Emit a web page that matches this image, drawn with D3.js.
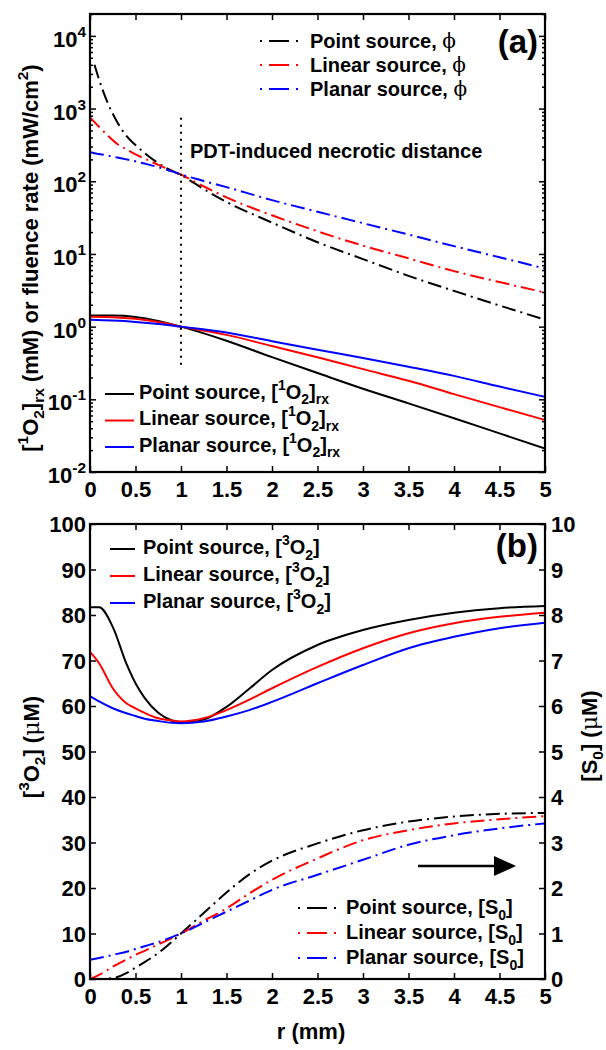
<!DOCTYPE html>
<html><head><meta charset="utf-8">
<script src="https://cdn.jsdelivr.net/npm/d3@7"></script>
<style>
body{margin:0;background:#fff}
svg text{font-family:"Liberation Sans",Arial,Helvetica,sans-serif;font-weight:bold;fill:#000}
.tick text{font-size:22px}
</style>
</head><body><svg id="c" width="606" height="1050"></svg>
<script>
// ---------- data: panel (a) fluence rate phi (mW/cm^2) ----------
const rPhi = [0, 0.05, 0.1, 0.2, 0.3, 0.4, 0.5, 0.6, 0.8, 1, 1.25, 1.5, 2, 2.5, 3, 3.5, 4, 4.5, 5];
const phiPoint  = [null, 4000, 2500, 1150, 650, 420, 315, 245, 162, 122, 78, 52, 27, 14.5, 8.5, 5.0, 3.1, 1.95, 1.25];
const phiLinear = [760, 650, 560, 420, 325, 275, 235, 205, 158, 123, 85, 60, 34, 20.5, 13, 8.7, 5.8, 4.1, 2.95];
const phiPlanar = [250, 243, 237, 225, 212, 200, 188, 175, 150, 124, 101, 83, 55, 38, 26.5, 18.5, 12.8, 9, 6.3];
// ---------- data: panel (a) [1O2]rx (mM) ----------
const rO1 = [0, 0.25, 0.5, 0.75, 1, 1.5, 2, 2.5, 3, 3.5, 4, 4.5, 5];
const o1Point  = [1.42, 1.42, 1.36, 1.2, 1.0, 0.64, 0.38, 0.23, 0.14, 0.088, 0.055, 0.034, 0.021];
const o1Linear = [1.37, 1.35, 1.28, 1.16, 1.0, 0.77, 0.54, 0.38, 0.26, 0.18, 0.118, 0.078, 0.052];
const o1Planar = [1.24, 1.21, 1.16, 1.09, 1.0, 0.83, 0.63, 0.48, 0.37, 0.28, 0.21, 0.15, 0.108];
const necroticR = 1;
const necroticRange = [0.28, 750];
// ---------- data: panel (b) ----------
const rB = [0, 0.1, 0.25, 0.4, 0.5, 0.6, 0.75, 0.9, 1, 1.25, 1.5, 1.75, 2, 2.5, 3, 3.5, 4, 4.5, 5];
const o3Point  = [81.7, 81.7, 77.4, 69.3, 65, 61.8, 58.5, 56.8, 56.3, 57.0, 59.8, 63.8, 67.9, 73.4, 76.7, 78.9, 80.5, 81.5, 82];
const o3Linear = [71.9, 69.4, 63.9, 60.6, 59.5, 58.5, 57.3, 56.8, 56.6, 57.3, 59.1, 61.4, 63.9, 68.6, 72.7, 76, 78.2, 79.6, 80.5];
const o3Planar = [62.2, 61, 59.5, 58.4, 57.8, 57.2, 56.7, 56.3, 56.2, 56.6, 57.7, 59.1, 60.9, 65, 69, 72.7, 75.2, 77.1, 78.3];
const s0Point  = [0, 0, 0.02, 0.13, 0.25, 0.37, 0.57, 0.82, 1.0, 1.45, 1.9, 2.3, 2.6, 2.98, 3.27, 3.46, 3.57, 3.63, 3.65];
const s0Linear = [0, 0.09, 0.27, 0.43, 0.53, 0.62, 0.76, 0.9, 1.0, 1.28, 1.55, 1.88, 2.18, 2.65, 3.05, 3.27, 3.42, 3.51, 3.58];
const s0Planar = [0.42, 0.46, 0.53, 0.6, 0.66, 0.72, 0.81, 0.92, 1.0, 1.24, 1.48, 1.72, 1.96, 2.29, 2.62, 2.95, 3.16, 3.31, 3.42];
// ---------- ticks ----------
const xTicks = [0, 0.5, 1, 1.5, 2, 2.5, 3, 3.5, 4, 4.5, 5];
const xTickLabels = ["0", "0.5", "1", "1.5", "2", "2.5", "3", "3.5", "4", "4.5", "5"];
const logExps = [-2, -1, 0, 1, 2, 3, 4];
const o3Ticks = [0, 10, 20, 30, 40, 50, 60, 70, 80, 90, 100];
const s0Ticks = [0, 1, 2, 3, 4, 5, 6, 7, 8, 9, 10];

const BLACK = "#000", RED = "#ff0000", BLUE = "#0000ff";
const DASHDOT = "14,5,2,5";

const svg = d3.select("#c");

function rich(textSel, parts, fs) {
  let cur = 0;
  parts.forEach(p => {
    const [t, k] = p;
    const target = k === "sup" ? -0.45 * fs : (k === "sub" ? 0.28 * fs : 0);
    const ts = textSel.append("tspan").attr("dy", target - cur).text(t);
    if (k === "sup" || k === "sub") ts.attr("font-size", fs * 0.7);
    if (k === "sym") ts.attr("font-family", "DejaVu Serif").attr("font-weight", "normal");
    cur = target;
  });
  return textSel;
}

function frameAndXAxis(P, xs) {
  const g = svg.append("g");
  g.append("g").attr("transform", `translate(0,${P.b})`)
    .call(d3.axisBottom(xs).tickValues(xTicks).tickSize(-6).tickPadding(9)
      .tickFormat((d, i) => xTickLabels[i]))
    .call(s => s.select(".domain").remove());
  g.append("g").attr("transform", `translate(0,${P.t})`)
    .call(d3.axisTop(xs).tickValues(xTicks).tickSize(-6).tickFormat(""))
    .call(s => s.select(".domain").remove());
  return g;
}

// ================= Panel (a) =================
const A = {l: 90, r: 545, t: 14, b: 472};
const xA = d3.scaleLinear().domain([0, 5]).range([A.l, A.r]);
const yA = d3.scaleLog().domain([0.01, 20000]).range([A.b, A.t]);

const gA = frameAndXAxis(A, xA);
const decades = logExps.map(e => Math.pow(10, e));
const minors = [];
logExps.forEach(e => { for (let m = 2; m <= 9; m++) { const v = m * Math.pow(10, e); if (v <= 20000) minors.push(v); } });
gA.append("g").attr("transform", `translate(${A.l},0)`)
  .call(d3.axisLeft(yA).tickValues(decades).tickSize(-6).tickFormat(""))
  .call(s => s.select(".domain").remove());
gA.append("g").attr("transform", `translate(${A.r},0)`)
  .call(d3.axisRight(yA).tickValues(decades).tickSize(-6).tickFormat(""))
  .call(s => s.select(".domain").remove());
gA.append("g").attr("transform", `translate(${A.l},0)`)
  .call(d3.axisLeft(yA).tickValues(minors).tickSize(-3).tickFormat(""))
  .call(s => s.select(".domain").remove());
gA.append("g").attr("transform", `translate(${A.r},0)`)
  .call(d3.axisRight(yA).tickValues(minors).tickSize(-3).tickFormat(""))
  .call(s => s.select(".domain").remove());
logExps.forEach(e => {
  const t = svg.append("text").attr("x", 86).attr("y", yA(Math.pow(10, e)) + 11)
    .attr("text-anchor", "end").attr("font-size", 22);
  rich(t, [["10", ""], [String(e), "sup"]], 22);
});

svg.append("defs").html(
  `<clipPath id="clipA"><rect x="${A.l}" y="${A.t}" width="${A.r - A.l}" height="${A.b - A.t}"/></clipPath>` +
  `<clipPath id="clipB"><rect x="90" y="524" width="455" height="455"/></clipPath>`);

const lineA = d3.line().defined(d => d[1] != null).x(d => xA(d[0])).y(d => yA(d[1])).curve(d3.curveMonotoneX);
const zip = (xs, ys) => xs.map((x, i) => [x, ys[i]]);
const plotA = svg.append("g").attr("clip-path", "url(#clipA)");
[[phiPoint, BLACK], [phiLinear, RED], [phiPlanar, BLUE]].forEach(([ys, c]) =>
  plotA.append("path").attr("d", lineA(zip(rPhi, ys))).attr("fill", "none")
    .attr("stroke", c).attr("stroke-width", 2).attr("stroke-dasharray", DASHDOT));
[[o1Point, BLACK], [o1Linear, RED], [o1Planar, BLUE]].forEach(([ys, c]) =>
  plotA.append("path").attr("d", lineA(zip(rO1, ys))).attr("fill", "none")
    .attr("stroke", c).attr("stroke-width", 2));
plotA.append("line").attr("x1", xA(necroticR)).attr("x2", xA(necroticR))
  .attr("y1", yA(necroticRange[1])).attr("y2", yA(necroticRange[0]))
  .attr("stroke", BLACK).attr("stroke-width", 2).attr("stroke-dasharray", "2,5");
svg.append("text").attr("x", 190).attr("y", 158).attr("font-size", 20).text("PDT-induced necrotic distance");

svg.append("rect").attr("x", A.l).attr("y", A.t).attr("width", A.r - A.l).attr("height", A.b - A.t)
  .attr("fill", "none").attr("stroke", BLACK).attr("stroke-width", 2.2);
svg.append("text").attr("x", 538).attr("y", 53).attr("text-anchor", "end").attr("font-size", 33).text("(a)");

// legend (a) top
const legA1 = [["Point source, ", BLACK], ["Linear source, ", RED], ["Planar source, ", BLUE]];
legA1.forEach(([lab, c], i) => {
  const y = 41 + i * 24;
  svg.append("line").attr("x1", 260).attr("x2", 302).attr("y1", y).attr("y2", y)
    .attr("stroke", c).attr("stroke-width", 2).attr("stroke-dasharray", "2,7,20,7,2,20");
  const t = svg.append("text").attr("x", 310).attr("y", y + 7).attr("font-size", 20);
  rich(t, [[lab, ""], ["ϕ", "sym"]], 20);
});
// legend (a) bottom
const legA2 = [["Point source, [", BLACK], ["Linear source, [", RED], ["Planar source, [", BLUE]];
legA2.forEach(([lab, c], i) => {
  const y = 394 + i * 26.5;
  svg.append("line").attr("x1", 105).attr("x2", 134).attr("y1", y).attr("y2", y)
    .attr("stroke", c).attr("stroke-width", 2);
  const t = svg.append("text").attr("x", 139).attr("y", y + 4.5).attr("font-size", 20);
  rich(t, [[lab, ""], ["1", "sup"], ["O", ""], ["2", "sub"], ["]", ""], ["rx", "sub"]], 20);
});
// y label (a)
const ylA = svg.append("text").attr("transform", "translate(38,258) rotate(-90)")
  .attr("text-anchor", "middle").attr("font-size", 22);
rich(ylA, [["[", ""], ["1", "sup"], ["O", ""], ["2", "sub"], ["]", ""], ["rx", "sub"],
  [" (mM) or fluence rate (mW/cm", ""], ["2", "sup"], [")", ""]], 22);

// ================= Panel (b) =================
const B = {l: 90, r: 545, t: 524, b: 979};
const xB = d3.scaleLinear().domain([0, 5]).range([B.l, B.r]);
const yB = d3.scaleLinear().domain([0, 100]).range([B.b, B.t]);
const yS = d3.scaleLinear().domain([0, 10]).range([B.b, B.t]);

const gB = frameAndXAxis(B, xB);
gB.append("g").attr("transform", `translate(${B.l},0)`)
  .call(d3.axisLeft(yB).tickValues(o3Ticks).tickSize(-6).tickFormat(""))
  .call(s => s.select(".domain").remove());
gB.append("g").attr("transform", `translate(${B.r},0)`)
  .call(d3.axisRight(yS).tickValues(s0Ticks).tickSize(-6).tickFormat(""))
  .call(s => s.select(".domain").remove());
o3Ticks.forEach(v => svg.append("text").attr("x", 86).attr("y", yB(v) + 8)
  .attr("text-anchor", "end").attr("font-size", 22).text(v));
s0Ticks.forEach(v => svg.append("text").attr("x", 551).attr("y", yS(v) + 8)
  .attr("font-size", 22).text(v));

const lineB = d3.line().x(d => xB(d[0])).y(d => yB(d[1])).curve(d3.curveMonotoneX);
const lineS = d3.line().x(d => xB(d[0])).y(d => yS(d[1])).curve(d3.curveMonotoneX);
const plotB = svg.append("g").attr("clip-path", "url(#clipB)");
[[o3Point, BLACK], [o3Linear, RED], [o3Planar, BLUE]].forEach(([ys, c]) =>
  plotB.append("path").attr("d", lineB(zip(rB, ys))).attr("fill", "none")
    .attr("stroke", c).attr("stroke-width", 2));
[[s0Point, BLACK], [s0Linear, RED], [s0Planar, BLUE]].forEach(([ys, c]) =>
  plotB.append("path").attr("d", lineS(zip(rB, ys))).attr("fill", "none")
    .attr("stroke", c).attr("stroke-width", 2).attr("stroke-dasharray", DASHDOT));

svg.append("rect").attr("x", B.l).attr("y", B.t).attr("width", B.r - B.l).attr("height", B.b - B.t)
  .attr("fill", "none").attr("stroke", BLACK).attr("stroke-width", 2.2);
svg.append("text").attr("x", 538).attr("y", 557).attr("text-anchor", "end").attr("font-size", 33).text("(b)");

// arrow
svg.append("line").attr("x1", 418).attr("x2", 498).attr("y1", 866).attr("y2", 866)
  .attr("stroke", BLACK).attr("stroke-width", 2.5);
svg.append("path").attr("d", "M494,856 L516,866 L494,876 Z").attr("fill", BLACK);

// legend (b) top
const legB1 = [["Point source, [", BLACK], ["Linear source, [", RED], ["Planar source, [", BLUE]];
legB1.forEach(([lab, c], i) => {
  const y = 549 + i * 27;
  svg.append("line").attr("x1", 110).attr("x2", 135).attr("y1", y).attr("y2", y)
    .attr("stroke", c).attr("stroke-width", 2);
  const t = svg.append("text").attr("x", 143).attr("y", y + 5).attr("font-size", 20);
  rich(t, [[lab, ""], ["3", "sup"], ["O", ""], ["2", "sub"], ["]", ""]], 20);
});
// legend (b) bottom
const legB2 = [["Point source, [S", BLACK], ["Linear source, [S", RED], ["Planar source, [S", BLUE]];
legB2.forEach(([lab, c], i) => {
  const y = 908 + i * 25;
  svg.append("line").attr("x1", 298).attr("x2", 340).attr("y1", y).attr("y2", y)
    .attr("stroke", c).attr("stroke-width", 2).attr("stroke-dasharray", "2,7,20,7,2,20");
  const t = svg.append("text").attr("x", 346).attr("y", y + 6).attr("font-size", 20);
  rich(t, [[lab, ""], ["0", "sub"], ["]", ""]], 20);
});

// axis labels (b)
svg.append("text").attr("x", 311).attr("y", 1039).attr("text-anchor", "middle").attr("font-size", 22).text("r (mm)");
const ylB = svg.append("text").attr("transform", "translate(39,747) rotate(-90)")
  .attr("text-anchor", "middle").attr("font-size", 22);
rich(ylB, [["[", ""], ["3", "sup"], ["O", ""], ["2", "sub"], ["] (", ""], ["μ", "sym"], ["M)", ""]], 22);
const yrB = svg.append("text").attr("transform", "translate(597,736) rotate(-90)")
  .attr("text-anchor", "middle").attr("font-size", 22);
rich(yrB, [["[S", ""], ["0", "sub"], ["] (", ""], ["μ", "sym"], ["M)", ""]], 22);

d3.selectAll(".tick line").attr("stroke", BLACK).attr("stroke-width", 1.5);
</script></body></html>
